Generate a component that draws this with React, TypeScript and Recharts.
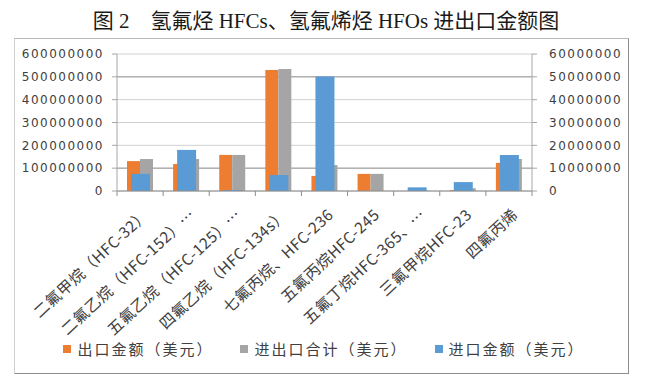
import React from 'react';
import { BarChart, Bar, XAxis, YAxis, CartesianGrid, Legend } from 'recharts';

const title = '图 2　氢氟烃 HFCs、氢氟烯烃 HFOs 进出口金额图';

const categories = [
  '二氟甲烷（HFC-32）',
  '二氟乙烷（HFC-152）…',
  '五氟乙烷（HFC-125）…',
  '四氟乙烷（HFC-134s）',
  '七氟丙烷、HFC-236',
  '五氟丙烷HFC-245',
  '五氟丁烷HFC-365、…',
  '三氟甲烷HFC-23',
  '四氟丙烯',
];

const exportAmounts = [131000000, 118000000, 158000000, 530000000, 66000000, 75000000, 300000, 4000000, 123000000];
const totalAmounts = [140000000, 140000000, 158000000, 534000000, 114000000, 75000000, 2000000, 12000000, 140000000];
const importAmounts = [7500000, 18000000, 400000, 7000000, 50200000, 0, 1600000, 3900000, 15800000];

const leftTicks = [0, 100000000, 200000000, 300000000, 400000000, 500000000, 600000000];
const rightTicks = [0, 10000000, 20000000, 30000000, 40000000, 50000000, 60000000];
const darkGridValues = [100000000, 500000000];

const seriesNames = {
  exp: '出口金额（美元）',
  total: '进出口合计（美元）',
  imp: '进口金额（美元）',
};
const seriesColors = {
  exp: '#ED7D31',
  total: '#A5A5A5',
  imp: '#5B9BD5',
};

const data = categories.map((name, i) => ({
  name,
  exp: exportAmounts[i],
  total: totalAmounts[i],
  imp: importAmounts[i],
}));

const CJK = '"Noto Sans CJK SC", "Noto Sans", sans-serif';

const XTick = (props: any) => {
  const { x, y, payload, index } = props;
  const half = payload && payload.offset != null ? payload.offset : 0;
  const isLast = index === categories.length - 1;
  return (
    <g>
      <line x1={x - half} x2={x - half} y1={y} y2={y + 5} stroke="#8c8c8c" />
      {isLast && <line x1={x + half} x2={x + half} y1={y} y2={y + 5} stroke="#8c8c8c" />}
      <text
        transform={`translate(${x + 10},${y + 25}) rotate(-43)`}
        textAnchor="end"
        fontSize={15.5}
        letterSpacing={0.5}
        fontFamily={CJK}
        fill="#404040"
      >
        {payload.value}
      </text>
    </g>
  );
};

const renderLegend = (props: any) => {
  const payload = props.payload || [];
  return (
    <div
      style={{
        display: 'flex',
        justifyContent: 'center',
        alignItems: 'center',
        gap: 27,
        height: 20,
        width: 648,
      }}
    >
      {payload.map((p: any) => (
        <div key={p.value} style={{ display: 'flex', alignItems: 'center' }}>
          <span style={{ width: 8, height: 8, background: p.color, display: 'inline-block', marginRight: 6 }} />
          <span
            style={{
              fontFamily: CJK,
              fontSize: 15,
              letterSpacing: 2,
              color: '#404040',
              lineHeight: '20px',
            }}
          >
            {p.value}
          </span>
        </div>
      ))}
    </div>
  );
};

const yTickStyle = {
  fill: '#404040',
  fontSize: 12,
  fontFamily: '"DejaVu Sans", sans-serif',
  letterSpacing: 1.5,
};

export default function App() {
  return (
    <div style={{ position: 'absolute', left: 0, top: 0, width: 648, height: 388, background: '#fff' }}>
      <div
        style={{
          position: 'absolute',
          left: 0,
          top: 7,
          width: 648,
          paddingLeft: 4,
          boxSizing: 'border-box',
          textAlign: 'center',
          fontSize: 21,
          lineHeight: '28px',
          fontFamily: '"Liberation Serif", "Noto Sans CJK SC", serif',
          color: '#1a1a1a',
          whiteSpace: 'pre',
        }}
      >
        {title}
      </div>
      <div
        style={{
          position: 'absolute',
          left: 14,
          top: 38,
          width: 615,
          height: 336,
          boxSizing: 'border-box',
          borderTop: '1px solid #b8b8b8',
          borderLeft: '1px solid #d0d0d0',
          borderRight: '1px solid #8c8c8c',
          borderBottom: '1px solid #8c8c8c',
        }}
      />
      <div style={{ position: 'absolute', left: 0, top: 0 }}>
        <BarChart
          width={648}
          height={388}
          data={data}
          margin={{ top: 54, right: 0, bottom: 47, left: 0 }}
          barGap={0}
        >
          <CartesianGrid
            xAxisId="main"
            yAxisId="left"
            vertical={false}
            horizontalValues={leftTicks}
            stroke="#d0d0d0"
          />
          <CartesianGrid
            xAxisId="main"
            yAxisId="left"
            vertical={false}
            horizontalValues={darkGridValues}
            stroke="#9a9a9a"
          />
          <XAxis
            xAxisId="main"
            dataKey="name"
            interval={0}
            height={150}
            tickSize={0}
            tickMargin={0}
            tickLine={false}
            axisLine={{ stroke: '#8c8c8c' }}
            tick={<XTick />}
          />
          <XAxis xAxisId="sec" dataKey="name" hide />
          <YAxis
            yAxisId="left"
            orientation="left"
            width={117}
            domain={[0, 600000000]}
            ticks={leftTicks}
            interval={0}
            tickSize={5}
            tickMargin={8}
            tick={yTickStyle}
            axisLine={{ stroke: '#a6a6a6' }}
            tickLine={{ stroke: '#a6a6a6' }}
          />
          <YAxis
            yAxisId="right"
            orientation="right"
            width={116}
            domain={[0, 60000000]}
            ticks={rightTicks}
            interval={0}
            tickSize={5}
            tickMargin={12}
            tick={yTickStyle}
            axisLine={{ stroke: '#a6a6a6' }}
            tickLine={{ stroke: '#a6a6a6' }}
          />
          <Legend
            verticalAlign="middle"
            layout="horizontal"
            wrapperStyle={{ top: 339, left: 0, width: 648, height: 20 }}
            content={renderLegend}
          />
          <Bar
            xAxisId="main"
            yAxisId="left"
            dataKey="exp"
            name={seriesNames.exp}
            fill={seriesColors.exp}
            barSize={13}
            isAnimationActive={false}
          />
          <Bar
            xAxisId="main"
            yAxisId="left"
            dataKey="total"
            name={seriesNames.total}
            fill={seriesColors.total}
            barSize={13}
            isAnimationActive={false}
          />
          <Bar
            xAxisId="sec"
            yAxisId="right"
            dataKey="imp"
            name={seriesNames.imp}
            fill={seriesColors.imp}
            barSize={19}
            isAnimationActive={false}
          />
        </BarChart>
      </div>
    </div>
  );
}
